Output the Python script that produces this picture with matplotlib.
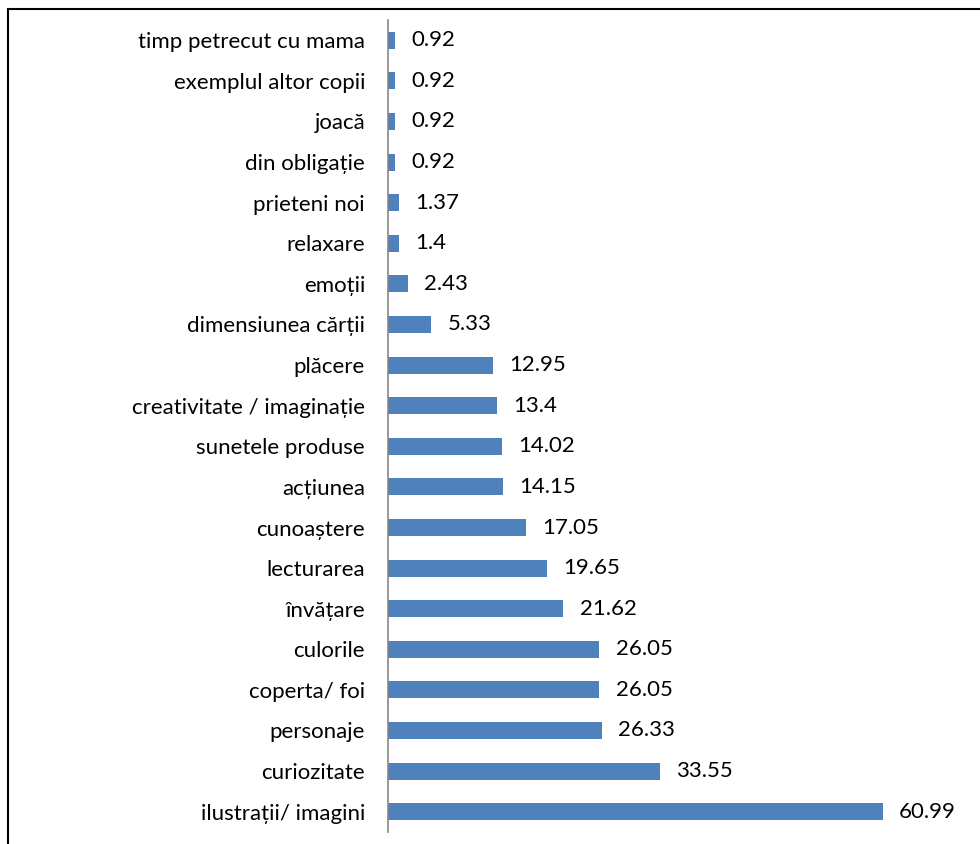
import matplotlib.pyplot as plt
from matplotlib.patches import Rectangle

categorii = ['ilustrații/ imagini', 'curiozitate', 'personaje', 'coperta/ foi', 'culorile',
             'învățare', 'lecturarea', 'cunoaștere', 'acțiunea', 'sunetele produse',
             'creativitate / imaginație', 'plăcere', 'dimensiunea cărții', 'emoții',
             'relaxare', 'prieteni noi', 'din obligație', 'joacă', 'exemplul altor copii',
             'timp petrecut cu mama']
procente = [60.99, 33.55, 26.33, 26.05, 26.05, 21.62, 19.65, 17.05, 14.15, 14.02,
            13.4, 12.95, 5.33, 2.43, 1.4, 1.37, 0.92, 0.92, 0.92, 0.92]

plt.rcParams['font.family'] = ['Lato', 'DejaVu Sans']

fig = plt.figure(figsize=(9.8, 8.44), dpi=100)
ax = fig.add_axes([388 / 980, 12 / 844, 590 / 980, 812 / 844])

poz = range(len(categorii))
ax.barh(poz, procente, height=0.42, color='#4F81BD')

for i, v in enumerate(procente):
    ax.text(v + 2.0, i, f'{v:g}', va='center', ha='left', fontsize=16)

ax.set_yticks(list(poz))
ax.set_yticklabels(categorii, fontsize=16)
ax.tick_params(axis='y', length=0, pad=16.5)
ax.set_xticks([])
ax.set_ylim(-0.5, len(categorii) - 0.5)
ax.set_xlim(0, 72.7)

for s in ['top', 'right', 'bottom']:
    ax.spines[s].set_visible(False)
ax.spines['left'].set_color('#888888')
ax.spines['left'].set_linewidth(1.2)

# chenarul din jurul graficului
fig.patches.append(Rectangle((8 / 980, -0.1), 1.2, (844 - 9) / 844 + 0.1,
                             transform=fig.transFigure, fill=False,
                             edgecolor='black', linewidth=1.5))

fig.savefig('out.png', dpi=100)
